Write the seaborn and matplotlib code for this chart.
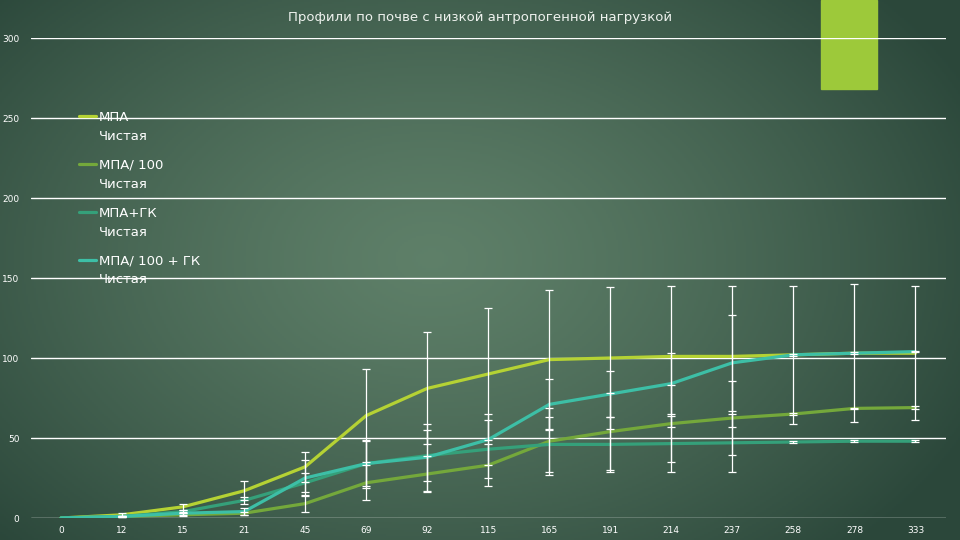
import numpy as np
import pandas as pd
import matplotlib
matplotlib.use("Agg")
import matplotlib.pyplot as plt
import seaborn as sns
from matplotlib.lines import Line2D
from matplotlib.legend_handler import HandlerLine2D

# chart data
days = ["0", "12", "15", "21", "45", "69", "92", "115", "165", "191", "214", "237", "258", "278", "333"]

mpa = [0, 2, 7, 17, 32, 64, 81, 90, 99, 100, 101, 101, 102, 103, 103]
mpa_err = [0, 1, 2, 6, 9.5, 29, 35, 41, 43.5, 44.5, 44, 44, 43, 43, 42]

mpa100 = [0, 1, 2, 3, 9, 22, 27.5, 33, 48, 54, 59, 62.5, 65, 68.5, 69]
mpa100_err = [0, 0.5, 1, 1, 5.5, 11, 11, 13, 21, 24, 24, 23, 0.5, 0.5, 1]

mpagk = [0, 1, 4, 11, 22, 34, 39, 43, 46, 46, 46.5, 47, 47.5, 48, 48]
mpagk_err = [0, 0.5, 1, 2, 6, 15, 16, 18, 17, 17, 17.5, 18, 0.5, 0.5, 0.5]

mpa100gk = [0, 1, 3, 4, 25, 34, 38, 49, 71, 77.5, 84, 97, 102, 103, 104]
mpa100gk_err = [0, 0.5, 1, 2, 11, 14, 21, 16, 16, 14.5, 19, 30, 0.5, 0.5, 0.5]

labels = ["МПА\nЧистая", "МПА/ 100\nЧистая", "МПА+ГК\nЧистая", "МПА/ 100 + ГК\nЧистая"]
colors = ["#b5d234", "#74a83b", "#35a07a", "#3dbfa6"]
title = "Профили по почве с низкой антропогенной нагрузкой"

sns.set_theme(style="white")
plt.rcParams["font.family"] = ["DejaVu Sans"]


class TopLineHandler(HandlerLine2D):
    """Puts the legend line next to the first text line instead of the middle."""
    def create_artists(self, legend, orig_handle, xdescent, ydescent, width, height, fontsize, trans):
        artists = super().create_artists(legend, orig_handle, xdescent, ydescent,
                                         width, height, fontsize, trans)
        for a in artists:
            a.set_ydata(np.asarray(a.get_ydata()) + 0.85 * fontsize)
        return artists


pos = np.arange(len(days))
series = [(mpa, mpa_err), (mpa100, mpa100_err), (mpagk, mpagk_err), (mpa100gk, mpa100gk_err)]
df = pd.concat([
    pd.DataFrame({"pos": pos, "value": vals, "err": errs, "series": lab})
    for (vals, errs), lab in zip(series, labels)
])

fig = plt.figure(figsize=(9.6, 5.4), dpi=100)

# dark green slide background with a lighter centre
bg = fig.add_axes([0, 0, 1, 1], zorder=-2)
yy, xx = np.mgrid[0:1:270j, 0:1:480j]
r = np.clip(np.sqrt(((xx - 0.45) / 0.62) ** 2 + ((yy - 0.48) / 0.75) ** 2), 0, 1)
inner = np.array([0.37, 0.50, 0.41])
outer = np.array([0.17, 0.28, 0.23])
img = inner + (outer - inner) * (r[..., None] ** 1.3)
bg.imshow(img, aspect="auto", extent=[0, 1, 0, 1])
bg.axis("off")

# lime accent block top right
fig.patches.append(plt.Rectangle((821 / 960, 1 - 89 / 540), 56 / 960, 89 / 540,
                                 transform=fig.transFigure, color="#9dc93a", zorder=-1))

ax = fig.add_axes([30.5 / 960, 22 / 540, 915.5 / 960, 480 / 540])
ax.set_facecolor("none")

sns.lineplot(data=df, x="pos", y="value", hue="series", palette=colors,
             linewidth=2.3, ax=ax, legend=True, errorbar=None)

for (vals, errs) in series:
    ax.errorbar(pos[1:], vals[1:], yerr=errs[1:], fmt="none", ecolor="white",
                elinewidth=0.9, capsize=3, capthick=0.9, zorder=5)

ax.set_xlim(-0.5, len(days) - 0.5)
ax.set_ylim(0, 300)
ax.set_yticks([0, 50, 100, 150, 200, 250, 300])
ax.set_xticks(pos)
ax.set_xticklabels(days)
ax.grid(axis="y", color="white", linewidth=1)
ax.grid(axis="x", visible=False)
ax.set_axisbelow(True)
for s in ax.spines.values():
    s.set_visible(False)
ax.tick_params(axis="both", length=0, labelsize=6.5, colors="white")
ax.tick_params(axis="y", pad=8)
ax.tick_params(axis="x", pad=6)
ax.set_xlabel("")
ax.set_ylabel("")

fig.text(0.5, 1 - 17 / 540, title, ha="center", va="center", color="#eef2ee", fontsize=9.5)

handles, _ = ax.get_legend_handles_labels()
leg = ax.legend(handles, labels, loc="upper left", bbox_to_anchor=(79 / 960, 1 - 111 / 540),
                bbox_transform=fig.transFigure, frameon=False, fontsize=9.5,
                labelcolor="white", handlelength=1.3, handletextpad=0.2,
                labelspacing=1.2, borderpad=0, borderaxespad=0,
                handler_map={Line2D: TopLineHandler()})
for t in leg.get_texts():
    t.set_linespacing(1.6)

fig.savefig("out.png", dpi=100)
